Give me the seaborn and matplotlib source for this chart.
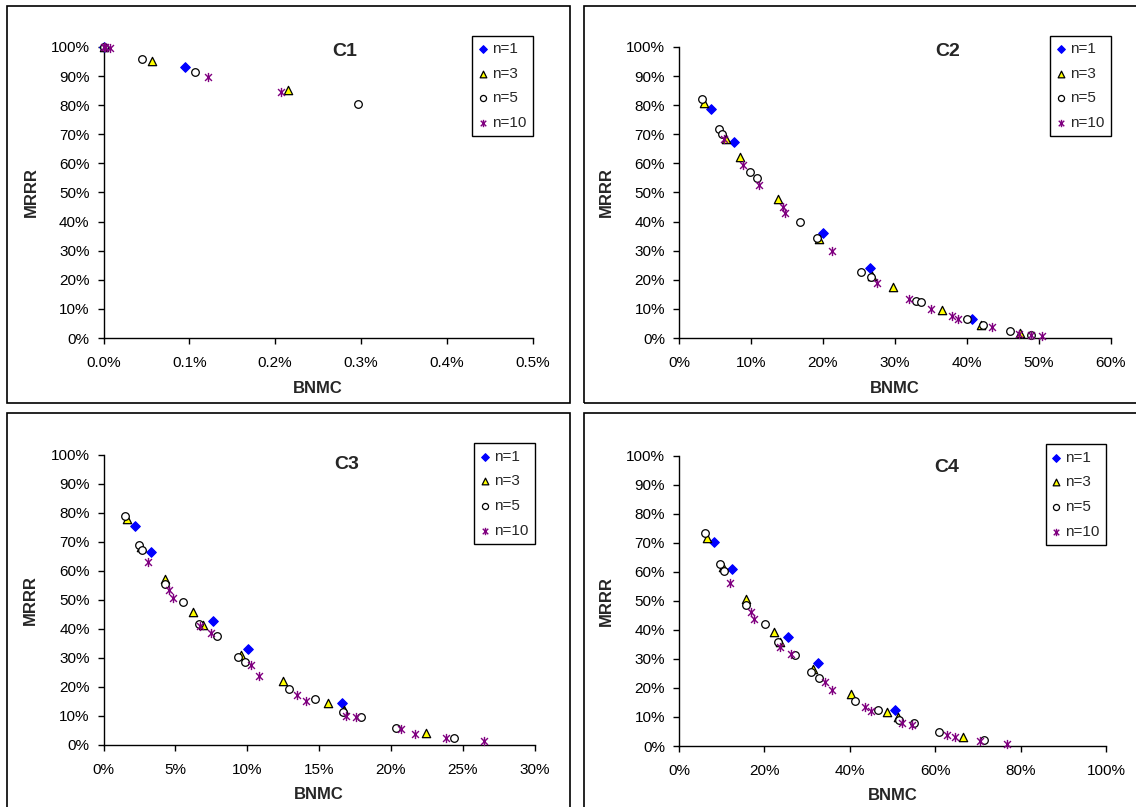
import numpy as np
import pandas as pd
import matplotlib
matplotlib.use("Agg")
import matplotlib.pyplot as plt
from matplotlib.path import Path
from matplotlib.patches import Rectangle
from matplotlib.ticker import FuncFormatter, MultipleLocator
import seaborn as sns

# ---------------- data (BNMC %, MRRR %) ----------------
series_names = ["n=1", "n=3", "n=5", "n=10"]

# C1
c1_n1_x = [0.0, 0.0946]
c1_n1_y = [100.0, 93.0]
c1_n3_x = [0.0, 0.056, 0.2155]
c1_n3_y = [100.0, 95.2, 85.1]
c1_n5_x = [0.0, 0.045, 0.1066, 0.297]
c1_n5_y = [100.0, 95.8, 91.3, 80.5]
c1_n10_x = [0.0, 0.002, 0.007, 0.1214, 0.2066]
c1_n10_y = [100.0, 100.0, 99.7, 89.7, 84.4]

# C2
c2_n1_x = [4.45, 7.61, 19.95, 26.6, 40.8]
c2_n1_y = [78.8, 67.2, 36.1, 24.1, 6.6]
c2_n3_x = [3.48, 6.54, 8.49, 13.74, 19.4, 26.8, 29.7, 36.5, 42.0, 47.4]
c2_n3_y = [80.6, 68.3, 62.2, 47.9, 33.9, 21.3, 17.6, 9.5, 4.5, 1.6]
c2_n5_x = [3.16, 5.57, 6.03, 9.93, 10.86, 16.85, 19.2, 25.3, 26.7, 32.9, 33.6, 40.0, 42.2, 46.0, 48.9]
c2_n5_y = [82.0, 71.9, 70.0, 57.0, 55.1, 39.9, 34.2, 22.8, 21.0, 12.8, 12.4, 6.4, 4.5, 2.3, 1.1]
c2_n10_x = [6.31, 8.96, 11.09, 14.39, 14.80, 21.3, 27.5, 32.0, 35.0, 38.0, 38.8, 43.5, 47.2, 48.9, 50.4]
c2_n10_y = [68.3, 59.5, 52.7, 45.0, 43.1, 30.0, 18.9, 13.3, 10.0, 7.7, 6.6, 3.7, 1.3, 1.0, 0.7]

# C3
c3_n1_x = [2.19, 3.32, 7.61, 10.03, 16.57]
c3_n1_y = [75.4, 66.4, 42.6, 32.9, 14.6]
c3_n3_x = [1.65, 2.6, 4.29, 6.24, 6.94, 9.58, 12.5, 15.62, 16.75, 22.43]
c3_n3_y = [77.7, 68.0, 57.0, 45.8, 41.3, 30.9, 22.0, 14.6, 12.0, 4.1]
c3_n5_x = [1.47, 2.44, 2.67, 4.27, 5.55, 6.66, 7.89, 9.38, 9.83, 12.92, 14.73, 16.68, 17.89, 20.37, 24.38]
c3_n5_y = [78.9, 68.8, 67.2, 55.4, 49.1, 41.6, 37.5, 30.2, 28.4, 19.2, 15.8, 11.5, 9.5, 5.9, 2.5]
c3_n10_x = [3.11, 4.53, 4.83, 6.7, 7.47, 10.23, 10.84, 13.48, 14.08, 16.85, 17.56, 20.67, 21.65, 23.83, 26.47]
c3_n10_y = [63.0, 53.4, 50.7, 41.0, 38.4, 27.7, 23.8, 17.2, 15.3, 10.1, 9.7, 5.4, 3.8, 2.4, 1.3]

# C4
c4_n1_x = [8.27, 12.3, 25.5, 32.6, 50.7]
c4_n1_y = [70.1, 60.8, 37.4, 28.5, 12.4]
c4_n3_x = [6.63, 10.2, 15.8, 22.2, 23.7, 31.4, 40.2, 48.8, 51.2, 66.6]
c4_n3_y = [71.7, 61.5, 50.5, 39.4, 35.7, 26.5, 17.8, 11.7, 9.9, 3.0]
c4_n5_x = [6.09, 9.6, 10.6, 15.7, 20.1, 23.1, 27.2, 31.0, 32.7, 41.3, 46.7, 51.5, 55.0, 61.0, 71.5]
c4_n5_y = [73.4, 62.7, 60.1, 48.6, 42.1, 35.7, 31.2, 25.4, 23.4, 15.6, 12.5, 8.9, 7.8, 4.7, 2.0]
c4_n10_x = [12.0, 16.9, 17.6, 23.7, 26.2, 34.1, 35.8, 43.5, 44.9, 52.3, 54.6, 62.8, 64.7, 70.4, 76.7]
c4_n10_y = [56.0, 46.0, 43.7, 34.2, 31.7, 21.9, 19.4, 13.4, 11.9, 7.9, 7.1, 3.8, 3.1, 1.6, 0.7]

panel_titles = ["C1", "C2", "C3", "C4"]
x_max = [0.5, 60, 30, 100]
x_step = [0.1, 10, 5, 20]
x_decimals = [1, 0, 0, 0]

panels = [
    [(c1_n1_x, c1_n1_y), (c1_n3_x, c1_n3_y), (c1_n5_x, c1_n5_y), (c1_n10_x, c1_n10_y)],
    [(c2_n1_x, c2_n1_y), (c2_n3_x, c2_n3_y), (c2_n5_x, c2_n5_y), (c2_n10_x, c2_n10_y)],
    [(c3_n1_x, c3_n1_y), (c3_n3_x, c3_n3_y), (c3_n5_x, c3_n5_y), (c3_n10_x, c3_n10_y)],
    [(c4_n1_x, c4_n1_y), (c4_n3_x, c4_n3_y), (c4_n5_x, c4_n5_y), (c4_n10_x, c4_n10_y)],
]

# ---------------- style ----------------
sns.set_style("ticks")
plt.rcParams["font.family"] = ["Liberation Sans", "DejaVu Sans"]

star = Path([(0, -1), (0, 1), (-0.75, -0.75), (0.75, 0.75), (-0.75, 0.75), (0.75, -0.75)],
            [Path.MOVETO, Path.LINETO, Path.MOVETO, Path.LINETO, Path.MOVETO, Path.LINETO])

styles = {
    "n=1": dict(marker="D", color="#0000FF", edgecolor="#0000FF", s=24, linewidth=0.8),
    "n=3": dict(marker="^", color="#FFFF00", edgecolor="black", s=36, linewidth=0.9),
    "n=5": dict(marker="o", color="white", edgecolor="black", s=30, linewidth=0.9),
    "n=10": dict(marker=star, color="#800080", edgecolor="#800080", s=44, linewidth=1.0),
}

W, H = 1136, 807
fig = plt.figure(figsize=(W / 100, H / 100), dpi=100)

# axes rectangles in pixels: left, right, top, bottom
ax_px = [
    (103.5, 532.7, 47, 338),
    (679, 1110.6, 47, 338),
    (103.6, 534.7, 454.5, 745),
    (679, 1106, 455.5, 746),
]
frame_px = [
    (7, 570, 6, 403),
    (584, 1140, 6, 403),
    (7, 570, 413, 812),
    (584, 1140, 413, 812),
]
title_pos = [(0.563, 0.983), (0.623, 0.983), (0.563, 0.965), (0.627, 0.957)]

for (fx0, fx1, fy0, fy1) in frame_px:
    fig.patches.append(Rectangle((fx0 / W, 1 - fy1 / H), (fx1 - fx0) / W, (fy1 - fy0) / H,
                                 transform=fig.transFigure, fill=False,
                                 edgecolor="black", linewidth=1.2, zorder=0))

for i in range(4):
    l, r, t, b = ax_px[i]
    ax = fig.add_axes([l / W, 1 - b / H, (r - l) / W, (b - t) / H])
    for name, (xs, ys) in zip(series_names, panels[i]):
        df = pd.DataFrame({"BNMC": xs, "MRRR": ys})
        sns.scatterplot(data=df, x="BNMC", y="MRRR", ax=ax, label=name,
                        clip_on=False, zorder=3, **styles[name])
    ax.set_xlim(0, x_max[i])
    ax.set_ylim(0, 100)
    ax.xaxis.set_major_locator(MultipleLocator(x_step[i]))
    ax.yaxis.set_major_locator(MultipleLocator(10))
    d = x_decimals[i]
    ax.xaxis.set_major_formatter(FuncFormatter(lambda v, p, d=d: f"{v:.{d}f}%"))
    ax.yaxis.set_major_formatter(FuncFormatter(lambda v, p: f"{v:.0f}%"))
    sns.despine(ax=ax)
    for sp in ("left", "bottom"):
        ax.spines[sp].set_color("black")
        ax.spines[sp].set_linewidth(1.0)
    ax.tick_params(axis="both", direction="out", length=4, width=1, color="black",
                   labelsize=11, labelcolor="black")
    ax.tick_params(axis="x", pad=9)
    ax.tick_params(axis="y", pad=6)
    ax.set_xlabel("BNMC", fontsize=12, fontweight="bold")
    ax.set_ylabel("MRRR", fontsize=12, fontweight="bold")
    ax.xaxis.label.set_va("center")
    ax.yaxis.label.set_va("center")
    ax.xaxis.set_label_coords(0.5, -0.172)
    ax.yaxis.set_label_coords(-0.169, 0.5)
    tx, ty = title_pos[i]
    ax.text(tx, ty, panel_titles[i], transform=ax.transAxes, ha="center", va="center",
            fontsize=14, fontweight="bold")
    leg = ax.legend(loc="upper right", bbox_to_anchor=(1.0, 1.038), borderaxespad=0,
                    frameon=True, fancybox=False, shadow=False, framealpha=1,
                    edgecolor="black", fontsize=11, handlelength=0.6, handletextpad=0.3,
                    borderpad=0.4, labelspacing=0.7, borderaxespad_=None) if False else ax.legend(
                    loc="upper right", bbox_to_anchor=(1.0, 1.038), borderaxespad=0,
                    frameon=True, fancybox=False, shadow=False, framealpha=1,
                    edgecolor="black", fontsize=11, handlelength=0.6, handletextpad=0.3,
                    borderpad=0.4, labelspacing=0.7, scatterpoints=1, markerscale=0.8)
    leg.get_frame().set_linewidth(1.0)

fig.savefig("out.png", dpi=100)
